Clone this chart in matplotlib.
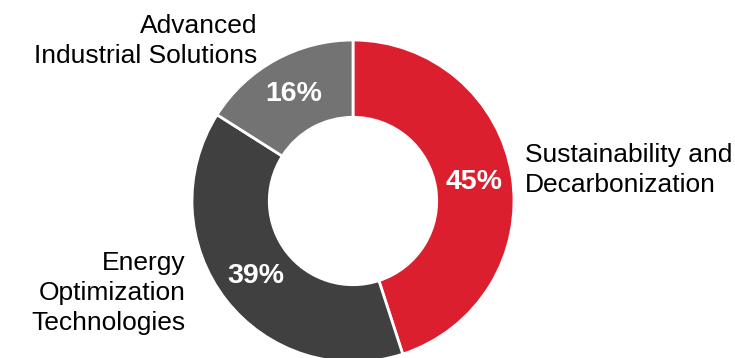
import matplotlib.pyplot as plt

# segment data
labels = ['Sustainability and\nDecarbonization',
          'Energy\nOptimization\nTechnologies',
          'Advanced\nIndustrial Solutions']
shares = [45, 39, 16]
colors = ['#DC1F2E', '#404040', '#737373']

plt.rcParams['font.family'] = ['Liberation Sans', 'DejaVu Sans']

W, H = 735, 358
cx, cy, R = 353, 201, 161  # donut centre / radius in pixels


def px(x, y):
    # pixel position -> data coords (radius 1 = R px)
    return (x - cx) / R, (cy - y) / R


fig = plt.figure(figsize=(W / 100, H / 100), dpi=100)
ax = fig.add_axes([0, 0, 1, 1])

wedges, texts, autotexts = ax.pie(
    shares, colors=colors, startangle=90, counterclock=False,
    radius=1, pctdistance=0.76,
    autopct=lambda p: f'{p:.0f}%',
    wedgeprops=dict(width=0.48, edgecolor='white', linewidth=2),
    textprops=dict(color='white', fontsize=20.5, fontweight='bold'))

ax.set_aspect('auto')
ax.set_xlim(-cx / R, (W - cx) / R)
ax.set_ylim(-(H - cy) / R, cy / R)
ax.axis('off')

# category labels
ax.text(*px(525, 170), labels[0], ha='left', va='center', fontsize=19,
        color='black', linespacing=1.28)
ax.text(*px(186, 293), labels[1], ha='right', va='center', fontsize=19,
        color='black', linespacing=1.3)
ax.text(*px(257, 41), labels[2], ha='right', va='center', fontsize=19,
        color='black', linespacing=1.28)

fig.savefig('out.png', dpi=100)
